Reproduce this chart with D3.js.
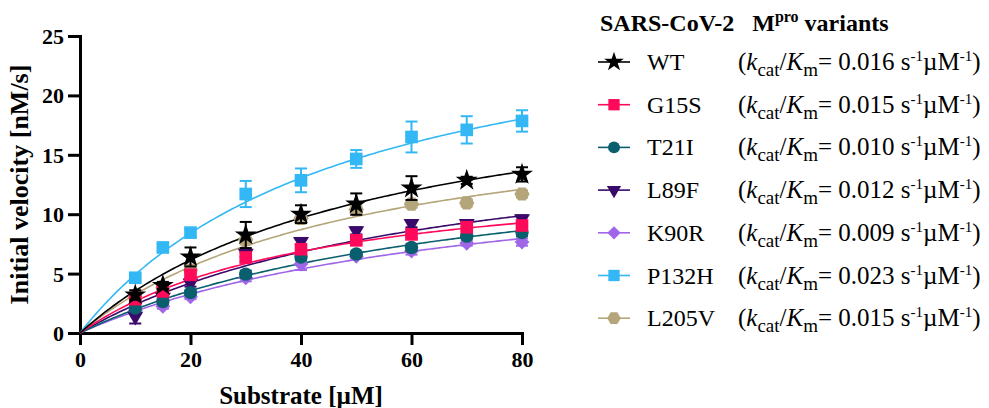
<!DOCTYPE html>
<html>
<head>
<meta charset="utf-8">
<script src="https://cdn.jsdelivr.net/npm/d3@7"></script>
<style>
  body { margin: 0; background: #fff; }
  svg { display: block; }
  svg text { font-family: "Liberation Serif", "Times New Roman", serif; fill: #000; }
</style>
</head>
<body>
<svg id="chart" width="989" height="408"></svg>
<script>
const substrate = [10, 15, 20, 30, 40, 50, 60, 70, 80];
const variants = ['WT', 'G15S', 'T21I', 'L89F', 'K90R', 'P132H', 'L205V'];
const efficiency = ['0.016', '0.015', '0.010', '0.012', '0.009', '0.023', '0.015'];
const colors = ['#000000', '#ff0a5a', '#0a5f6e', '#3a0a6a', '#a066e8', '#33b8f5', '#b5a57a'];

// mean initial velocity (nM/s) per variant at each substrate concentration
const wtMean    = [3.2, 4.0, 6.4, 8.25, 10.0, 10.85, 12.2, 12.85, 13.35];
const g15sMean  = [2.9, 3.5, 4.9, 6.35, 7.05, 7.8, 8.3, 8.9, 9.05];
const t21iMean  = [2.1, 2.65, 3.4, 4.95, 6.4, 6.65, 7.2, 8.15, 8.45];
const l89fMean  = [1.4, 3.0, 4.2, 6.7, 7.7, 8.6, 9.2, 9.2, 9.6];
const k90rMean  = [1.9, 2.25, 3.05, 4.65, 5.8, 6.45, 6.9, 7.55, 7.65];
const p132hMean = [4.65, 7.2, 8.45, 11.7, 12.85, 14.65, 16.5, 17.1, 17.85];
const l205vMean = [3.0, 3.8, 5.3, 7.85, 9.65, 10.4, 10.85, 10.95, 11.7];

// standard deviation
const wtSd    = [0.4, 0.3, 0.8, 1.1, 0.75, 0.9, 1.0, 0.3, 0.6];
const g15sSd  = [0.5, 0.3, 0.3, 0.4, 0.3, 0.3, 0.3, 0.3, 0.3];
const t21iSd  = [0.3, 0.2, 0.2, 0.3, 0.3, 0.2, 0.3, 0.2, 0.3];
const l89fSd  = [0.6, 0.3, 0.3, 0.3, 0.3, 0.3, 0.3, 0.3, 0.3];
const k90rSd  = [0.3, 0.2, 0.2, 0.3, 0.5, 0.2, 0.3, 0.2, 0.3];
const p132hSd = [0.3, 0.3, 0.3, 1.1, 1.0, 0.75, 1.3, 1.15, 0.9];
const l205vSd = [0.3, 0.3, 0.3, 0.4, 0.4, 0.3, 0.3, 0.3, 0.3];

// Michaelis-Menten fit parameters
const vmax = [22.8, 14.3, 16.4, 17.9, 15.2, 29.1, 19.8];
const km   = [54.2, 43.4, 72.2, 65.0, 72.9, 49.2, 51.0];

const means = [wtMean, g15sMean, t21iMean, l89fMean, k90rMean, p132hMean, l205vMean];
const sds = [wtSd, g15sSd, t21iSd, l89fSd, k90rSd, p132hSd, l205vSd];

const hexagon = {
    draw(ctx, size) {
        const r = Math.sqrt(size / 2.598);
        for (let i = 0; i < 6; i++) {
            const a = Math.PI / 3 * i;
            const px = r * Math.cos(a), py = r * Math.sin(a);
            if (i === 0) ctx.moveTo(px, py); else ctx.lineTo(px, py);
        }
        ctx.closePath();
    }
};
const symbols = [
    { type: d3.symbolStar, size: 150, rotate: 0 },
    { type: d3.symbolSquare, size: 160, rotate: 0 },
    { type: d3.symbolCircle, size: 140, rotate: 0 },
    { type: d3.symbolTriangle, size: 110, rotate: 180 },
    { type: d3.symbolSquare, size: 110, rotate: 45 },
    { type: d3.symbolSquare, size: 160, rotate: 0 },
    { type: hexagon, size: 150, rotate: 0 }
];

const svg = d3.select('#chart');
const margin = { left: 80, right: 467, top: 36, bottom: 75 };
const width = 989, height = 408;

const x = d3.scaleLinear().domain([0, 80]).range([margin.left, width - margin.right]);
const y = d3.scaleLinear().domain([0, 25]).range([height - margin.bottom, margin.top]);

// axes
const xAxis = svg.append('g')
    .attr('transform', `translate(0, ${y(0)})`)
    .call(d3.axisBottom(x).tickValues([0, 20, 40, 60, 80]).tickSizeOuter(0).tickSize(12).tickPadding(6));
const yAxis = svg.append('g')
    .attr('transform', `translate(${x(0)}, 0)`)
    .call(d3.axisLeft(y).tickValues([0, 5, 10, 15, 20, 25]).tickSizeOuter(0).tickSize(12).tickPadding(4));

[xAxis, yAxis].forEach(a => {
    a.attr('font-family', null).attr('font-size', null);
    a.select('.domain').attr('stroke-width', 3);
    a.selectAll('.tick line').attr('stroke-width', 3);
    a.selectAll('.tick text')
        .style('font-size', '22px')
        .style('font-weight', 'bold');
});
yAxis.selectAll('.tick text').attr('dy', '0.34em');

svg.append('text')
    .attr('x', (x(0) + x(80)) / 2)
    .attr('y', 404)
    .attr('text-anchor', 'middle')
    .style('font-size', '25px')
    .style('font-weight', 'bold')
    .text('Substrate [µM]');

svg.append('text')
    .attr('transform', `translate(28, ${(y(0) + y(25)) / 2}) rotate(-90)`)
    .attr('text-anchor', 'middle')
    .style('font-size', '26px')
    .style('font-weight', 'bold')
    .text('Initial velocity [nM/s]');

// fitted curves
const sGrid = d3.range(0, 80.5, 0.5);
const line = d3.line().x(d => x(d[0])).y(d => y(d[1]));
const order = [6, 5, 4, 3, 2, 1, 0];

order.forEach(i => {
    svg.append('path')
        .datum(sGrid.map(s => [s, vmax[i] * s / (km[i] + s)]))
        .attr('d', line)
        .attr('fill', 'none')
        .attr('stroke', colors[i])
        .attr('stroke-width', 1.6);
});

// error bars and markers
order.forEach(i => {
    const g = svg.append('g');
    substrate.forEach((s, j) => {
        const cx = x(s), m = means[i][j], sd = sds[i][j];
        g.append('line')
            .attr('x1', cx).attr('x2', cx)
            .attr('y1', y(m - sd)).attr('y2', y(m + sd))
            .attr('stroke', colors[i]).attr('stroke-width', 2);
        [m - sd, m + sd].forEach(v => {
            g.append('line')
                .attr('x1', cx - 6).attr('x2', cx + 6)
                .attr('y1', y(v)).attr('y2', y(v))
                .attr('stroke', colors[i]).attr('stroke-width', 2);
        });
        g.append('path')
            .attr('d', d3.symbol().type(symbols[i].type).size(symbols[i].size))
            .attr('transform', `translate(${cx}, ${y(m)}) rotate(${symbols[i].rotate})`)
            .attr('fill', colors[i]);
    });
});

// legend
const legend = svg.append('g');
const title = legend.append('text')
    .attr('x', 600).attr('y', 31)
    .style('font-size', '24px')
    .style('font-weight', 'bold')
    .style('white-space', 'pre');
title.append('tspan').text('SARS-CoV-2   M');
title.append('tspan').attr('dy', -9).style('font-size', '16px').text('pro');
title.append('tspan').attr('dy', 9).text(' variants');

variants.forEach((name, i) => {
    const ly = 62 + i * 42.7;
    const row = legend.append('g').attr('transform', `translate(0, ${ly})`);
    row.append('line')
        .attr('x1', 598).attr('x2', 630)
        .attr('stroke', colors[i]).attr('stroke-width', 1.6);
    row.append('path')
        .attr('d', d3.symbol().type(symbols[i].type).size(symbols[i].size * 0.8))
        .attr('transform', `translate(614, 0) rotate(${symbols[i].rotate})`)
        .attr('fill', colors[i]);
    row.append('text')
        .attr('x', 647).attr('y', 8)
        .style('font-size', '24px')
        .text(name);
    const t = row.append('text')
        .attr('x', 738).attr('y', 8)
        .style('font-size', '25px')
        .style('white-space', 'pre');
    t.append('tspan').text('(');
    t.append('tspan').style('font-style', 'italic').text('k');
    t.append('tspan').attr('dy', 6).style('font-size', '19px').text('cat');
    t.append('tspan').attr('dy', -6).text('/');
    t.append('tspan').style('font-style', 'italic').text('K');
    t.append('tspan').attr('dy', 6).style('font-size', '19px').text('m');
    t.append('tspan').attr('dy', -6).text(`= ${efficiency[i]} s`);
    t.append('tspan').attr('dy', -9).style('font-size', '15px').text('-1');
    t.append('tspan').attr('dy', 9).text('µM');
    t.append('tspan').attr('dy', -9).style('font-size', '15px').text('-1');
    t.append('tspan').attr('dy', 9).text(')');
});
</script>
</body>
</html>
